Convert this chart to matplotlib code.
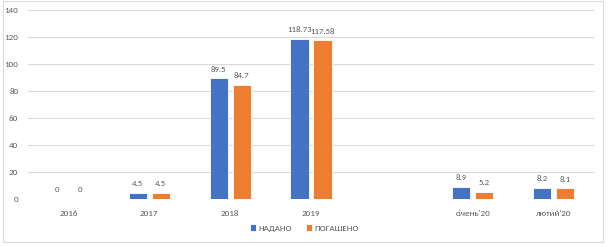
import numpy as np
import matplotlib.pyplot as plt
from matplotlib.patches import Rectangle

plt.rcParams['font.family'] = ['Carlito', 'Liberation Sans', 'DejaVu Sans']

categories = ['2016', '2017', '2018', '2019', '', "січень'20", "лютий'20"]
nadano = [0, 4.5, 89.5, 118.73, None, 8.9, 8.2]
pogasheno = [0, 4.5, 84.7, 117.58, None, 5.2, 8.1]
labels_nadano = ['0', '4.5', '89.5', '118.73', '', '8.9', '8.2']
labels_pogasheno = ['0', '4.5', '84.7', '117.58', '', '5.2', '8.1']

blue = '#4472C4'
orange = '#ED7D31'
text_col = '#595959'

fig = plt.figure(figsize=(6.09, 2.47), dpi=100)
ax = fig.add_axes([28 / 609, 1 - 199 / 247, 566 / 609, 189 / 247])

x = np.arange(len(categories))
w = 0.225
v1 = [np.nan if v is None else v for v in nadano]
v2 = [np.nan if v is None else v for v in pogasheno]
b1 = ax.bar(x - 0.142, v1, w, color=blue, edgecolor='white', linewidth=0.6, label='НАДАНО', zorder=3)
b2 = ax.bar(x + 0.142, v2, w, color=orange, edgecolor='white', linewidth=0.6, label='ПОГАШЕНО', zorder=3)
ax.bar_label(b1, labels=labels_nadano, padding=4, fontsize=6.3, color=text_col)
ax.bar_label(b2, labels=labels_pogasheno, padding=4, fontsize=6.3, color=text_col)

ax.set_xlim(-0.5, len(categories) - 0.5)
ax.set_ylim(0, 140)
ax.set_yticks(range(0, 141, 20))
ax.set_xticks(x)
ax.set_xticklabels(categories)
ax.tick_params(axis='both', length=0, labelsize=6.5, labelcolor=text_col)
ax.tick_params(axis='x', pad=8)
ax.tick_params(axis='y', pad=7)
ax.grid(axis='y', color='#D9D9D9', linewidth=0.8, zorder=0)
for s in ax.spines.values():
    s.set_visible(False)

fig.legend(loc='center', bbox_to_anchor=(0.5, 1 - 228 / 247), ncol=2, frameon=False,
           fontsize=6.5, labelcolor=text_col, handlelength=0.7, handleheight=0.7,
           handletextpad=0.3, columnspacing=1.5)

fig.patches.append(Rectangle((3 / 609, 1 - 242 / 247), 600 / 609, 241 / 247,
                             transform=fig.transFigure, fill=False,
                             edgecolor='#D9D9D9', linewidth=0.8))

fig.savefig('out.png', dpi=100)
